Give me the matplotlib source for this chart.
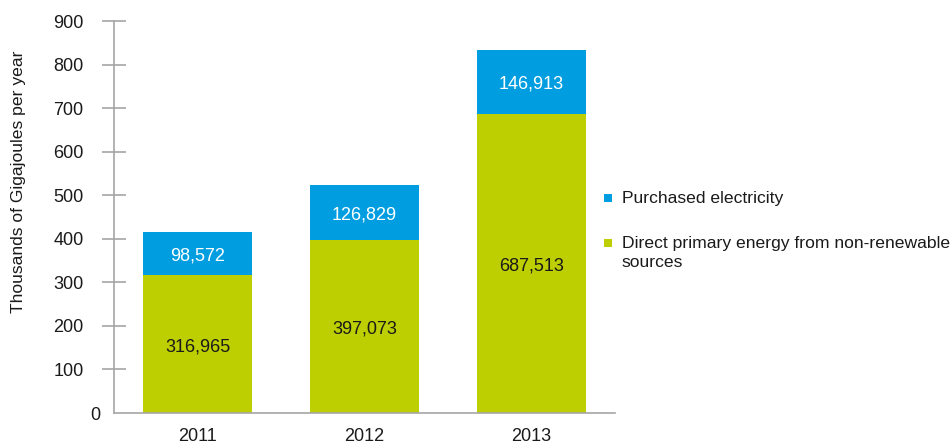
import matplotlib
matplotlib.use("Agg")
import matplotlib.pyplot as plt
from matplotlib.patches import Rectangle
from matplotlib.transforms import ScaledTranslation

years = ["2011", "2012", "2013"]
direct_energy = [316965, 397073, 687513]
purchased_electricity = [98572, 126829, 146913]
series_names = ["Purchased electricity", "Direct primary energy from non-renewable\nsources"]
y_ticks = [0, 100, 200, 300, 400, 500, 600, 700, 800, 900]

BLUE = "#009EE0"
GREEN = "#BDCF00"
AXIS = "#A6A6A6"
TEXT = "#1A1A1A"
FS_NUM = 13
FS_TXT = 12.6

plt.rcParams["font.family"] = ["Liberation Sans", "DejaVu Sans"]

W, H = 953, 444
fig = plt.figure(figsize=(W / 100, H / 100), dpi=100)
ax = fig.add_axes([114 / W, 1 - 413 / H, 501 / W, 392 / H])

x = list(range(len(years)))
direct_k = [v / 1000 for v in direct_energy]
purch_k = [v / 1000 for v in purchased_electricity]

b1 = ax.bar(x, direct_k, width=0.647, color=GREEN, linewidth=0)
b2 = ax.bar(x, purch_k, bottom=direct_k, width=0.647, color=BLUE, linewidth=0)
ax.bar_label(b1, labels=[f"{v:,}" for v in direct_energy], label_type="center",
             color=TEXT, fontsize=FS_NUM, padding=-2)
ax.bar_label(b2, labels=[f"{v:,}" for v in purchased_electricity], label_type="center",
             color="white", fontsize=FS_NUM, padding=-2)

ax.set_xlim(-0.5, 2.5)
ax.set_ylim(0, 900)
ax.set_xticks(x, years)
ax.set_yticks(y_ticks)

for s in ["top", "right"]:
    ax.spines[s].set_visible(False)
for s in ["left", "bottom"]:
    ax.spines[s].set_color(AXIS)
    ax.spines[s].set_linewidth(1.2)

ax.tick_params(axis="x", length=0, pad=11, labelsize=FS_NUM, labelcolor=TEXT)
ax.tick_params(axis="y", direction="inout", length=17, width=1.2, color=AXIS,
               pad=13.5, labelsize=FS_NUM, labelcolor=TEXT)

# zero sits at the axis corner: no tick mark, label nudged toward the spine
zero_tick = ax.yaxis.get_major_ticks()[0]
zero_tick.tick1line.set_visible(False)
zero_tick.label1.set_transform(zero_tick.label1.get_transform()
                               + ScaledTranslation(17 / 100, 0, fig.dpi_scale_trans))

ax.set_ylabel("Thousands of Gigajoules per year", fontsize=FS_TXT, color=TEXT)
ax.yaxis.set_label_coords(-0.176, 0.589)

# legend drawn in figure pixels
entries = [(BLUE, series_names[0], 198), (GREEN, series_names[1], 243)]
for color, label, yc in entries:
    fig.patches.append(Rectangle((604 / W, 1 - (yc + 4) / H), 8 / W, 8 / H,
                                 transform=fig.transFigure, color=color, linewidth=0))
    fig.text(622 / W, 1 - (yc - 7) / H, label, fontsize=FS_TXT, color=TEXT,
             va="top", ha="left", linespacing=1.3)

fig.savefig("out.png", dpi=100)
